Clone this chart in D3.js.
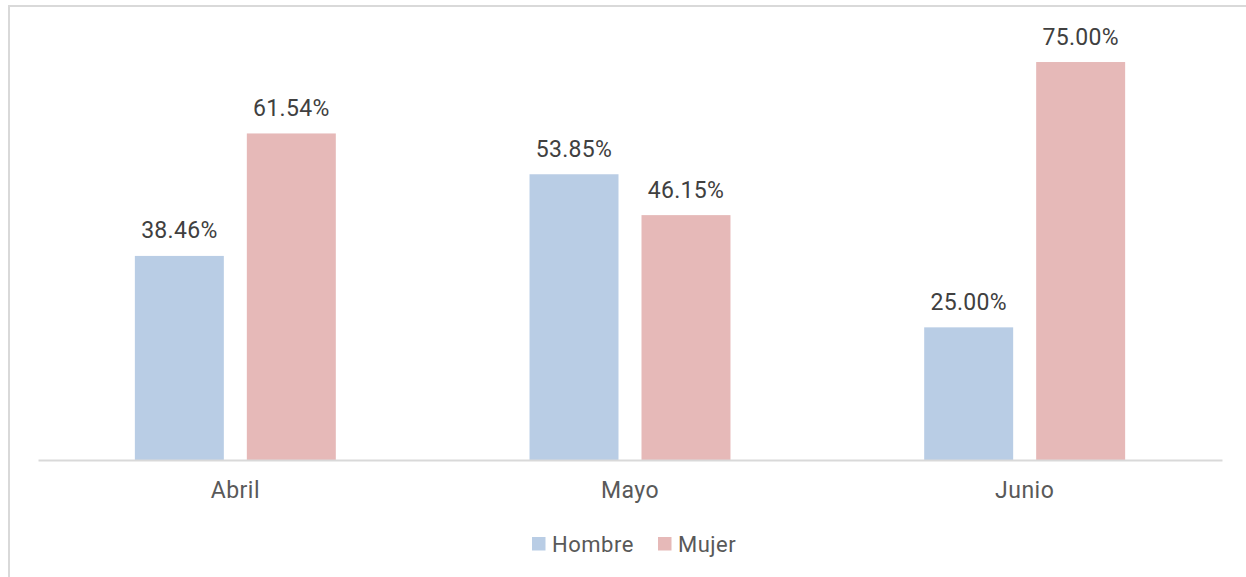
<!DOCTYPE html>
<html><head><meta charset="utf-8">
<script src="https://cdn.jsdelivr.net/npm/d3@7"></script>
<style>body{margin:0;background:#fff}svg{display:block}text{font-family:Roboto,"Noto Sans",sans-serif}</style>
</head><body><svg id="c" width="1246" height="577"></svg>
<script>
const categories = ["Abril","Mayo","Junio"];
const seriesNames = ["Hombre","Mujer"];
const hombre = [38.46, 53.85, 25.00];
const mujer = [61.54, 46.15, 75.00];
const colors = ["#b9cde5","#e6b9b8"];

const svg = d3.select("#c");
const W=1246,H=577;
svg.append("line").attr("x1",9).attr("x2",W).attr("y1",6).attr("y2",6).attr("stroke","#d9d9d9").attr("stroke-width",2);
svg.append("line").attr("x1",9).attr("x2",9).attr("y1",5).attr("y2",H).attr("stroke","#d9d9d9").attr("stroke-width",2);

const plot={left:38,right:1222,top:35.5,bottom:460};
const x0=d3.scaleBand().domain(categories).range([plot.left,plot.right]).paddingInner(0).paddingOuter(0);
const x1=d3.scaleBand().domain(seriesNames).range([0,x0.bandwidth()]).paddingInner(0.2054).paddingOuter(0.865);
const y=d3.scaleLinear().domain([0,80]).range([plot.bottom,plot.top]);

const data=categories.map((c,i)=>({cat:c,vals:[{s:"Hombre",v:hombre[i]},{s:"Mujer",v:mujer[i]}]}));
const g=svg.append("g");
const grp=g.selectAll("g.cat").data(data).join("g").attr("transform",d=>`translate(${x0(d.cat)},0)`);
grp.selectAll("rect").data(d=>d.vals).join("rect")
 .attr("x",d=>x1(d.s)).attr("width",x1.bandwidth())
 .attr("y",d=>y(d.v)).attr("height",d=>y(0)-y(d.v))
 .attr("fill",(d,i)=>colors[i]);
grp.selectAll("text").data(d=>d.vals).join("text")
 .attr("x",d=>x1(d.s)+x1.bandwidth()/2).attr("y",d=>y(d.v)-17.5)
 .attr("text-anchor","middle").attr("font-size",23).attr("letter-spacing",0.3).attr("fill","#404040")
 .text(d=>d.v.toFixed(2)+"%");

const ax=svg.append("g").attr("transform",`translate(0,${plot.bottom})`).call(d3.axisBottom(x0).tickSize(0).tickPadding(0));
ax.select(".domain").attr("stroke","#d9d9d9").attr("stroke-width",2);
ax.selectAll("text").attr("font-size",23).attr("letter-spacing",0.5).attr("fill","#595959").attr("dy",0).attr("y",38).style("font-family","Roboto");

const leg=svg.append("g");
const items=[{n:"Hombre",x:532},{n:"Mujer",x:658}];
items.forEach((it,i)=>{
 leg.append("rect").attr("x",it.x).attr("y",537).attr("width",13.5).attr("height",13.5).attr("fill",colors[i]);
 leg.append("text").attr("x",it.x+20).attr("y",551.5).attr("font-size",22).attr("letter-spacing",0.5).attr("fill","#595959").text(it.n);
});
</script></body></html>
